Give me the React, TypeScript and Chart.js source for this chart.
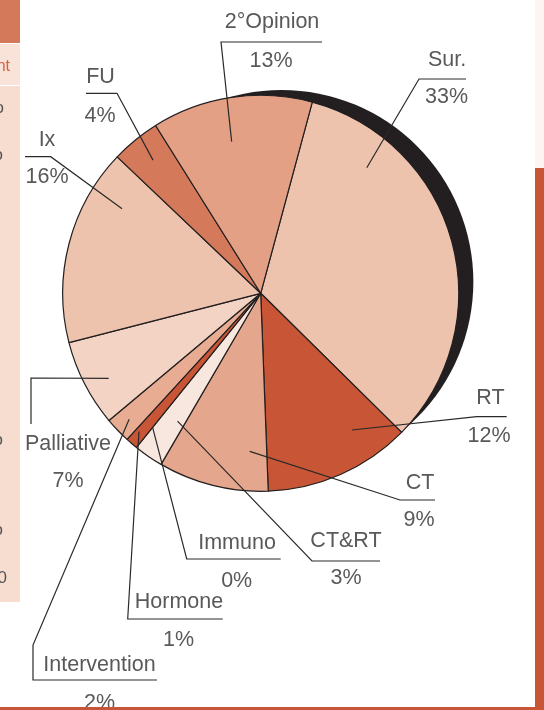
import React, { useEffect, useRef } from "react";
import { Chart, registerables } from "chart.js";

Chart.register(...registerables);

// ---- data ----
const categories = ["Sur.", "RT", "CT", "CT&RT", "Immuno", "Hormone", "Intervention", "Palliative", "Ix", "FU", "2°Opinion"];
const values = [33.2, 12.0, 9.0, 2.4, 0, 1.0, 2.1, 7.1, 16.1, 4.0, 13.1];
const percentLabels = ["33%", "12%", "9%", "3%", "0%", "1%", "2%", "7%", "16%", "4%", "13%"];
const sliceColors = ["#EEC3AE", "#C85535", "#E4A68C", "#F8E7DE", "#F8E7DE", "#C85535", "#E7AC92", "#F3D3C4", "#EEC3AE", "#D5795B", "#E3A084"];

// ---- callout layout (label positions, leader-line corners) ----
type Callout = { t: number; rf: number; path: number[][]; name: number[]; pct: number[] };
const callouts: Callout[] = [
  { t: 0.21, rf: 0.83, path: [[419, 79], [466, 79]], name: [447, 60], pct: [446.5, 97.5] },
  { t: 0.27, rf: 0.83, path: [[476.7, 416.7], [506.7, 416.7]], name: [490.5, 398], pct: [489, 436.5] },
  { t: 0.19, rf: 0.8, path: [[400, 500], [435, 500]], name: [420, 483], pct: [419, 519.7] },
  { t: 0.33, rf: 0.77, path: [[312, 561], [380, 561]], name: [346, 541], pct: [346, 578] },
  { t: 0, rf: 0.87, path: [[186.7, 559], [280.7, 559]], name: [237, 543], pct: [236.7, 581] },
  { t: 0.7, rf: 0.93, path: [[127.7, 619], [222.7, 619]], name: [179, 602.5], pct: [178.5, 640] },
  { t: 0.5, rf: 0.92, path: [[33, 645], [33, 680], [157, 680]], name: [99.5, 665], pct: [99.5, 703] },
  { t: 0.42, rf: 0.88, path: [[31, 378], [31, 424]], name: [68, 444], pct: [68, 481] },
  { t: 0.79, rf: 0.82, path: [[50.7, 156.7], [25, 156.7]], name: [47, 140], pct: [47, 177] },
  { t: 0.52, rf: 0.865, path: [[117, 93.3], [86, 93.3]], name: [100.5, 77.5], pct: [100, 116.5] },
  { t: 0.45, rf: 0.78, path: [[221, 42], [322, 42]], name: [272, 22], pct: [271, 61] },
];

const W = 544;
const H = 710;
const FONT = '21.5px "Liberation Sans", Arial, sans-serif';

const decorPlugin = {
  id: "decor",
  beforeDraw(chart: any) {
    const ctx = chart.ctx;
    ctx.save();
    ctx.fillStyle = "#ffffff";
    ctx.fillRect(0, 0, W, H);
    // left cropped table panel
    ctx.fillStyle = "#D4795A";
    ctx.fillRect(0, 0, 20, 43);
    ctx.fillStyle = "#F9E3D8";
    ctx.fillRect(0, 44, 20, 41);
    ctx.fillStyle = "#F7DDD0";
    ctx.fillRect(0, 86, 20, 516);
    ctx.font = '16px "Liberation Sans", Arial, sans-serif';
    ctx.textBaseline = "middle";
    ctx.textAlign = "right";
    ctx.fillStyle = "#D8603F";
    ctx.fillText("nt", 10, 67);
    ctx.fillStyle = "#555";
    ctx.font = '17px "Liberation Sans", Arial, sans-serif';
    const frags: [string, number, number][] = [["o", 4, 108], ["o", 3, 155], ["o", 3, 440], ["o", 3, 530], ["10", 7, 578]];
    frags.forEach(([s, x, y]) => ctx.fillText(s, x, y));
    ctx.restore();
  },
  beforeDatasetsDraw(chart: any) {
    const ctx = chart.ctx;
    const el = chart.getDatasetMeta(0).data[0];
    const { x, y, outerRadius } = el.getProps(["x", "y", "outerRadius"], true);
    ctx.save();
    ctx.fillStyle = "#231F20";
    ctx.beginPath();
    ctx.arc(x + 0.105 * outerRadius, y - 0.058 * outerRadius, 0.969 * outerRadius, 0, Math.PI * 2);
    ctx.fill();
    ctx.restore();
  },
  afterDatasetsDraw(chart: any) {
    const ctx = chart.ctx;
    const meta = chart.getDatasetMeta(0);
    ctx.save();
    callouts.forEach((c, i) => {
      const el = meta.data[i];
      const { x, y, startAngle, endAngle, outerRadius } = el.getProps(["x", "y", "startAngle", "endAngle", "outerRadius"], true);
      const a = startAngle + c.t * (endAngle - startAngle);
      const ax = x + c.rf * outerRadius * Math.cos(a);
      const ay = y + c.rf * outerRadius * Math.sin(a);
      ctx.strokeStyle = "#2a2a2a";
      ctx.lineWidth = 1.2;
      ctx.beginPath();
      ctx.moveTo(ax, ay);
      c.path.forEach(([px, py]) => ctx.lineTo(px, py));
      ctx.stroke();
      ctx.font = FONT;
      ctx.fillStyle = "#595959";
      ctx.textAlign = "center";
      ctx.textBaseline = "middle";
      ctx.fillText(categories[i], c.name[0], c.name[1]);
      ctx.fillText(percentLabels[i], c.pct[0], c.pct[1]);
    });
    ctx.restore();
  },
  afterDraw(chart: any) {
    const ctx = chart.ctx;
    ctx.save();
    // right bar
    ctx.fillStyle = "#FDF5F1";
    ctx.fillRect(535, 0, 9, 168);
    ctx.fillStyle = "#C85535";
    ctx.fillRect(535, 168, 9, H - 168);
    // bottom rule (over the cropped last label)
    ctx.fillRect(0, 707, W, 3);
    ctx.restore();
  },
};

export default function App() {
  const ref = useRef<HTMLCanvasElement | null>(null);
  useEffect(() => {
    if (!ref.current) return;
    const chart = new Chart(ref.current, {
      type: "pie",
      data: {
        labels: categories,
        datasets: [
          {
            data: values,
            backgroundColor: sliceColors,
            borderColor: "#231F20",
            borderWidth: 1.2,
            radius: 198,
          } as any,
        ],
      },
      options: {
        responsive: false,
        animation: false,
        devicePixelRatio: 1,
        events: [],
        rotation: 15.1,
        layout: { padding: { left: 0, top: 0, right: 22.6, bottom: 123.4 } },
        plugins: { legend: { display: false }, tooltip: { enabled: false } },
      } as any,
      plugins: [decorPlugin],
    });
    return () => chart.destroy();
  }, []);
  return (
    <div style={{ position: "fixed", left: 0, top: 0, width: W, height: H }}>
      <canvas ref={ref} width={W} height={H} style={{ display: "block" }} />
    </div>
  );
}
